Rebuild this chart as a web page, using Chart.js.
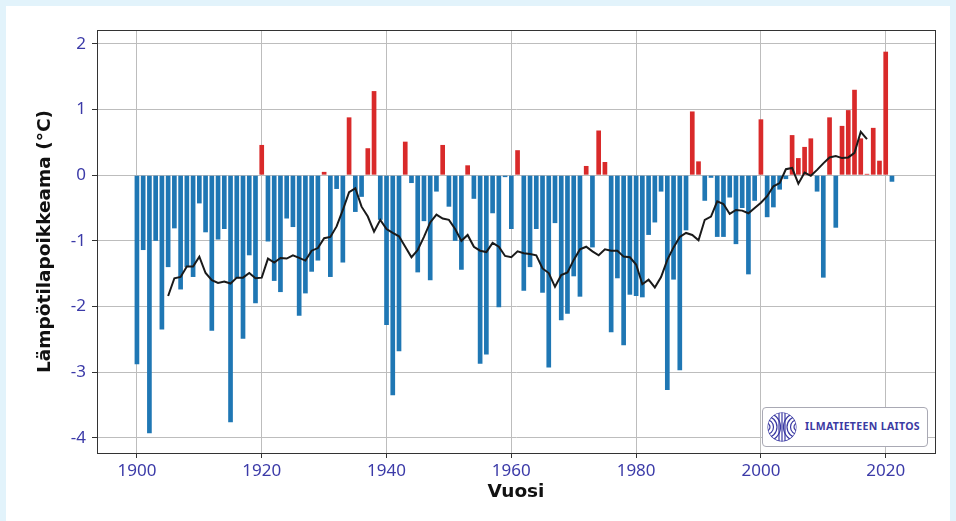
<!DOCTYPE html>
<html>
<head>
<meta charset="utf-8">
<script src="https://cdn.jsdelivr.net/npm/chart.js@4.4.0/dist/chart.umd.min.js"></script>
<style>
html, body { margin: 0; padding: 0; }
body { width: 956px; height: 521px; background: #e2f3fb; position: relative; overflow: hidden; font-family: "Noto Sans", sans-serif; }
#card { position: absolute; left: 6px; top: 6px; width: 944px; height: 515px; background: #fff; }
#chart { position: absolute; left: 0; top: 0; }
#logo { position: absolute; left: 762px; top: 407px; width: 164px; height: 38px; border: 1px solid #a9a9b4; border-radius: 4px; background: #fff; }
#logo svg { position: absolute; left: 3px; top: 3px; }
#logo span { position: absolute; left: 42px; top: 11px; font-family: "Noto Sans", sans-serif; font-weight: bold; font-size: 10.5px; letter-spacing: 0.35px; color: #3b3aa3; white-space: nowrap; }
</style>
</head>
<body>
<div id="card"></div>
<canvas id="chart" width="956" height="521"></canvas>
<div id="logo">
  <svg width="32" height="32" viewBox="-16 -16 32 32">
    <defs><clipPath id="c"><circle r="14.5"/></clipPath></defs>
    <g fill="none" stroke="#3b3aa3" stroke-width="1.2" clip-path="url(#c)">
      <circle r="14.5"/>
      <circle cx="-16" r="4"/><circle cx="-16" r="7.5"/><circle cx="-16" r="11"/><circle cx="-16" r="14.5"/>
      <circle cx="16" r="4"/><circle cx="16" r="7.5"/><circle cx="16" r="11"/><circle cx="16" r="14.5"/>
      <line x1="-3" y1="-15" x2="-3" y2="15"/><line x1="0" y1="-15" x2="0" y2="15"/><line x1="3" y1="-15" x2="3" y2="15"/>
    </g>
  </svg>
  <span>ILMATIETEEN LAITOS</span>
</div>
<script>
// vuodet 1900-2021
const years = [
  1900, 1901, 1902, 1903, 1904, 1905, 1906, 1907, 1908, 1909,
  1910, 1911, 1912, 1913, 1914, 1915, 1916, 1917, 1918, 1919,
  1920, 1921, 1922, 1923, 1924, 1925, 1926, 1927, 1928, 1929,
  1930, 1931, 1932, 1933, 1934, 1935, 1936, 1937, 1938, 1939,
  1940, 1941, 1942, 1943, 1944, 1945, 1946, 1947, 1948, 1949,
  1950, 1951, 1952, 1953, 1954, 1955, 1956, 1957, 1958, 1959,
  1960, 1961, 1962, 1963, 1964, 1965, 1966, 1967, 1968, 1969,
  1970, 1971, 1972, 1973, 1974, 1975, 1976, 1977, 1978, 1979,
  1980, 1981, 1982, 1983, 1984, 1985, 1986, 1987, 1988, 1989,
  1990, 1991, 1992, 1993, 1994, 1995, 1996, 1997, 1998, 1999,
  2000, 2001, 2002, 2003, 2004, 2005, 2006, 2007, 2008, 2009,
  2010, 2011, 2012, 2013, 2014, 2015, 2016, 2017, 2018, 2019,
  2020, 2021
];

// vuosipoikkeamat (°C)
const anomalies = [
  -2.88, -1.14, -3.93, -1.00, -2.35, -1.40, -0.81, -1.74, -1.40, -1.55,
  -0.43, -0.87, -2.37, -0.98, -0.82, -3.76, -1.57, -2.49, -1.22, -1.95,
   0.46, -1.01, -1.61, -1.78, -0.66, -0.79, -2.14, -1.80, -1.47, -1.30,
   0.05, -1.55, -0.21, -1.33,  0.88, -0.56, -0.33,  0.41,  1.28, -0.68,
  -2.28, -3.35, -2.68,  0.51, -0.12, -1.48, -0.70, -1.60, -0.25,  0.46,
  -0.48, -1.00, -1.44,  0.15, -0.36, -2.87, -2.73, -0.58, -2.01, -0.03,
  -0.82,  0.38, -1.76, -1.40, -0.82, -1.79, -2.93, -0.73, -2.21, -2.11,
  -1.54, -1.85,  0.14, -1.10,  0.68,  0.20, -2.39, -1.57, -2.59, -1.82,
  -1.84, -1.86, -0.91, -0.72, -0.25, -3.27, -1.59, -2.97, -0.84,  0.97,
   0.21, -0.39, -0.04, -0.94, -0.94, -0.34, -1.05, -0.50, -1.51, -0.39,
   0.85, -0.64, -0.49, -0.22, -0.06,  0.61,  0.26,  0.43,  0.56, -0.25,
  -1.56,  0.88, -0.80,  0.75,  0.99,  1.30,  0.56,  0.02,  0.72,  0.22,
   1.88, -0.10
];

// liukuva keskiarvo, vuodet 1905-2017
const smoothYears = years.slice(5, 118);
const smoothValues = [
  -1.84, -1.57, -1.55, -1.39, -1.39,
  -1.24, -1.49, -1.60, -1.64, -1.62, -1.65, -1.56, -1.56, -1.49, -1.57,
  -1.56, -1.27, -1.33, -1.26, -1.27, -1.22, -1.26, -1.30, -1.15, -1.11,
  -0.96, -0.94, -0.78, -0.53, -0.26, -0.20, -0.48, -0.63, -0.86, -0.68,
  -0.82, -0.88, -0.93, -1.09, -1.25, -1.14, -0.94, -0.72, -0.60, -0.66,
  -0.68, -0.82, -1.00, -0.91, -1.09, -1.15, -1.17, -1.03, -1.09, -1.23,
  -1.25, -1.16, -1.19, -1.20, -1.22, -1.42, -1.49, -1.70, -1.52, -1.48,
  -1.29, -1.13, -1.09, -1.16, -1.22, -1.13, -1.15, -1.15, -1.24, -1.25,
  -1.36, -1.66, -1.59, -1.71, -1.55, -1.29, -1.10, -0.94, -0.88, -0.91,
  -0.99, -0.68, -0.63, -0.40, -0.44, -0.59, -0.53, -0.54, -0.58, -0.50,
  -0.42, -0.32, -0.17, -0.12,  0.09,  0.11, -0.13,  0.04, -0.01,  0.08,
   0.18,  0.27,  0.29,  0.26,  0.27,  0.34,  0.66,  0.55
];

const xTicks = [1900, 1920, 1940, 1960, 1980, 2000, 2020];
const yTicks = [-4, -3, -2, -1, 0, 1, 2];

const red = '#d92a2a';
const blue = '#1f77b4';
const tickColor = '#3b3aa8';
const gridColor = '#bdbdbd';

// kehys koko kuva-alueen ympärille
const framePlugin = {
    id: 'frame',
    afterDatasetsDraw(chart) {
        const a = chart.chartArea;
        const ctx = chart.ctx;
        ctx.save();
        ctx.strokeStyle = '#333';
        ctx.lineWidth = 1;
        ctx.strokeRect(Math.round(a.left) + 0.5, Math.round(a.top) + 0.5,
            Math.round(a.right - a.left), Math.round(a.bottom - a.top));
        ctx.restore();
    }
};

const ctx = document.getElementById('chart').getContext('2d');
new Chart(ctx, {
    data: {
        datasets: [{
            type: 'line',
            data: smoothYears.map((y, i) => ({ x: y, y: smoothValues[i] })),
            borderColor: '#1a1a1a',
            borderWidth: 2,
            pointRadius: 0,
            tension: 0,
            order: 0
        }, {
            type: 'bar',
            data: years.map((y, i) => ({ x: y, y: anomalies[i] })),
            backgroundColor: anomalies.map(v => v >= 0 ? red : blue),
            barPercentage: 0.75,
            categoryPercentage: 1,
            order: 1
        }]
    },
    options: {
        responsive: false,
        animation: false,
        layout: { padding: { left: 0, top: 30, right: 21, bottom: 0 } },
        plugins: {
            legend: { display: false },
            tooltip: { enabled: false }
        },
        scales: {
            x: {
                type: 'linear',
                min: 1893.6,
                max: 2027.9,
                offset: false,
                afterBuildTicks(scale) { scale.ticks = xTicks.map(v => ({ value: v })); },
                afterFit(scale) { scale.height = 68; },
                grid: { offset: false, color: gridColor, tickColor: '#333', tickLength: 5 },
                border: { color: '#333' },
                ticks: {
                    color: tickColor,
                    padding: 3,
                    maxRotation: 0,
                    autoSkip: false,
                    font: { family: 'Noto Sans', size: 17 },
                    callback: v => String(v)
                },
                title: {
                    display: true,
                    text: 'Vuosi',
                    color: '#111',
                    font: { family: 'DejaVu Sans', size: 18.5, weight: 'bold' },
                    padding: { top: 0, bottom: 18 }
                }
            },
            y: {
                min: -4.23,
                max: 2.21,
                afterBuildTicks(scale) { scale.ticks = yTicks.map(v => ({ value: v })); },
                afterFit(scale) { scale.width = 97; },
                grid: { color: gridColor, tickColor: '#333', tickLength: 5 },
                border: { color: '#333' },
                ticks: {
                    color: tickColor,
                    padding: 6,
                    font: { family: 'Noto Sans', size: 17 }
                },
                title: {
                    display: true,
                    text: 'Lämpötilapoikkeama (°C)',
                    color: '#111',
                    font: { family: 'DejaVu Sans', size: 18.5, weight: 'bold' },
                    padding: { top: 34, bottom: 0 }
                }
            }
        }
    },
    plugins: [framePlugin]
});
</script>
</body>
</html>
